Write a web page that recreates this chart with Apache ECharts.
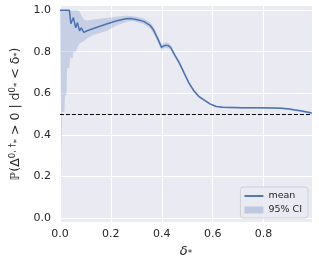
<!DOCTYPE html>
<html>
<head>
<meta charset="utf-8">
<script src="https://cdn.jsdelivr.net/npm/echarts@6/dist/echarts.min.js"></script>
<style>
html,body{margin:0;padding:0;background:#fff;}
#c{width:319px;height:264px;}
</style>
</head>
<body>
<div id="c"></div>
<script>
// delta_* values (x)
var xs = [0.000,0.004,0.006,0.008,0.018,0.020,0.026,0.028,0.037,0.040,0.043,0.050,0.053,0.062,0.069,0.077,0.084,0.094,0.107,0.132,0.183,0.220,0.259,0.280,0.304,0.329,0.354,0.367,0.386,0.399,0.411,0.424,0.434,0.450,0.469,0.488,0.507,0.526,0.545,0.564,0.589,0.614,0.640,0.716,0.780,0.840,0.869,0.900,0.918,0.950,0.989];
// mean probability
var meanVals = [1.000,1.000,1.000,1.000,1.000,1.000,1.000,1.000,1.000,0.970,0.935,0.955,0.965,0.915,0.940,0.900,0.915,0.893,0.901,0.912,0.933,0.948,0.959,0.960,0.954,0.946,0.927,0.906,0.858,0.821,0.830,0.830,0.822,0.786,0.746,0.697,0.649,0.612,0.585,0.569,0.549,0.536,0.532,0.530,0.530,0.529,0.528,0.524,0.520,0.514,0.505];
// 95% CI lower bound
var lowerVals = [0.970,0.520,0.220,0.510,0.510,0.590,0.590,0.720,0.720,0.770,0.770,0.770,0.800,0.800,0.820,0.840,0.845,0.850,0.865,0.880,0.900,0.925,0.943,0.948,0.942,0.932,0.912,0.890,0.843,0.807,0.816,0.817,0.810,0.775,0.736,0.688,0.641,0.605,0.579,0.564,0.545,0.532,0.528,0.526,0.526,0.525,0.524,0.520,0.516,0.510,0.500];
// 95% CI upper bound
var upperVals = [1.000,1.000,1.000,1.000,1.000,1.000,1.000,1.000,1.000,1.000,1.000,1.000,1.000,1.000,1.000,0.995,0.975,0.955,0.950,0.955,0.962,0.968,0.973,0.972,0.968,0.960,0.942,0.922,0.873,0.835,0.844,0.843,0.834,0.797,0.756,0.706,0.657,0.619,0.591,0.574,0.553,0.540,0.536,0.534,0.534,0.533,0.532,0.528,0.524,0.518,0.510];
var xTicks = [0, 0.2, 0.4, 0.6, 0.8];
var yTicks = [0, 0.2, 0.4, 0.6, 0.8, 1.0];
var refLine = 0.5;

var meanData = xs.map(function(x,i){return [x, meanVals[i]];});
var bandData = xs.map(function(x,i){return [x, lowerVals[i], upperVals[i]];});

var blue = '#4C72B0';
var bandColor = 'rgba(76,114,176,0.22)';
var font = 'DejaVu Sans';
var chart = echarts.init(document.getElementById('c'), null, {renderer:'canvas'});

function renderBand(params, api){
  if (params.dataIndex !== 0) return null;
  var pts = [];
  for (var i = 0; i < bandData.length; i++) pts.push(api.coord([bandData[i][0], bandData[i][2]]));
  for (var j = bandData.length - 1; j >= 0; j--) pts.push(api.coord([bandData[j][0], bandData[j][1]]));
  return {type:'polygon', shape:{points:pts}, style:{fill:bandColor, stroke:null}, silent:true};
}

chart.setOption({
  animation:false,
  backgroundColor:'#ffffff',
  grid:{left:52,right:7,top:6,bottom:42,show:true,backgroundColor:'#EAEAF2',borderWidth:0},
  xAxis:{
    type:'value', min:0, max:0.99,
    axisLine:{show:false}, axisTick:{show:false, customValues:xTicks},
    axisLabel:{customValues:xTicks, color:'#262626', fontSize:11, fontFamily:font, margin:7,
      formatter:function(v){return v.toFixed(1);}},
    splitLine:{show:true, lineStyle:{color:'#ffffff', width:1}},
    name:'δ{s|*}', nameLocation:'middle', nameGap:14,
    nameTextStyle:{color:'#262626', fontSize:13, fontFamily:font, fontStyle:'italic',
      rich:{s:{fontSize:9, fontFamily:font, color:'#262626', verticalAlign:'bottom', padding:[5,0,0,0]}}}
  },
  yAxis:{
    type:'value', min:-0.02, max:1.02,
    axisLine:{show:false}, axisTick:{show:false, customValues:yTicks},
    axisLabel:{customValues:yTicks, color:'#262626', fontSize:11, fontFamily:font, margin:9,
      formatter:function(v){return v.toFixed(1);}},
    splitLine:{show:true, lineStyle:{color:'#ffffff', width:1}},
    name:'ℙ(Δ{p|0, †}{s|*} > 0 | d{p|0}{s|*} < δ{s|*})', nameLocation:'middle', nameGap:31, nameRotate:90,
    nameTextStyle:{color:'#262626', fontSize:12.5, fontFamily:font,
      rich:{
        p:{fontSize:8.5, fontFamily:font, color:'#262626', padding:[0,0,6,0]},
        s:{fontSize:8.5, fontFamily:font, color:'#262626', padding:[5,0,0,0]}
      }}
  },
  legend:{
    orient:'vertical', right:11, bottom:46,
    backgroundColor:'rgba(234,234,242,0.8)', borderColor:'#d0d0d8', borderWidth:1, borderRadius:3,
    padding:[4,6,3,4], itemGap:4, itemWidth:19, itemHeight:7,
    textStyle:{color:'#262626', fontSize:9.5, fontFamily:font},
    data:[{name:'mean', icon:'path://M0,0H20V2H0Z'},{name:'95% CI', icon:'rect'}]
  },
  series:[
    {name:'95% CI', type:'custom', renderItem:renderBand, data:bandData,
     encode:{x:0, y:[1,2]}, itemStyle:{color:'rgba(76,114,176,0.28)'}, z:1},
    {name:'mean', type:'line', data:meanData, symbol:'none', clip:true,
     itemStyle:{color:blue}, lineStyle:{color:blue, width:1.5},
     markLine:{silent:true, symbol:'none', label:{show:false},
       lineStyle:{color:'#000', type:[4,2], width:1},
       data:[{yAxis:refLine}]}, z:3}
  ]
});
</script>
</body>
</html>
